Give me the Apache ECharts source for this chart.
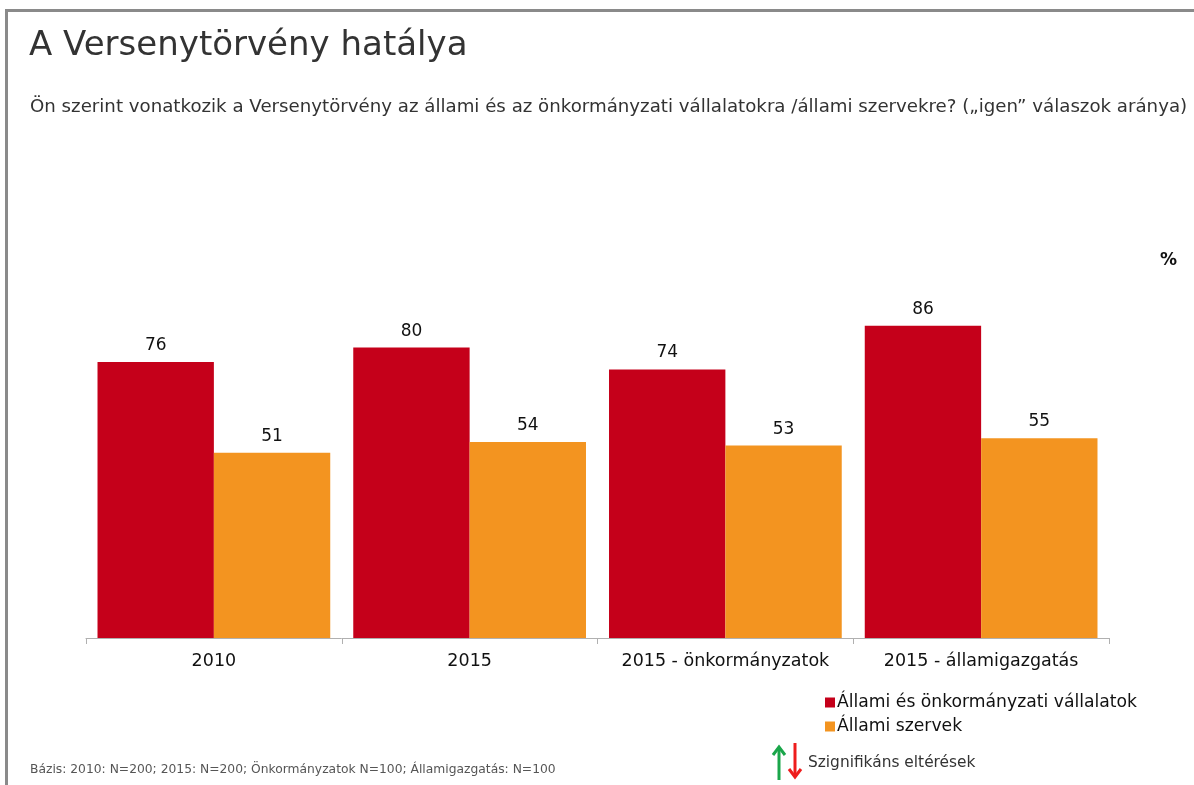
<!DOCTYPE html>
<html>
<head>
<meta charset="utf-8">
<script src="https://cdn.jsdelivr.net/npm/echarts@6/dist/echarts.min.js"></script>
<style>
html,body{margin:0;padding:0;background:#fff;}
#chart{width:1194px;height:785px;}
</style>
</head>
<body>
<div id="chart"></div>
<script>
const categories = ['2010', '2015', '2015 - önkormányzatok', '2015 - államigazgatás'];
const seriesNames = ['Állami és önkormányzati vállalatok', 'Állami szervek'];
const vallalatok = [76, 80, 74, 86];
const szervek = [51, 54, 53, 55];

const chart = echarts.init(document.getElementById('chart'), null, {renderer: 'canvas'});
const FONT = 'DejaVu Sans, Verdana, sans-serif';
chart.setOption({
  animation: false,
  backgroundColor: '#fff',
  textStyle: {fontFamily: FONT},
  title: [
    {text: 'A Versenytörvény hatálya', left: 29, top: 29, padding: 0,
     textStyle: {fontSize: 34, fontWeight: 'normal', color: '#333', fontFamily: FONT}},
    {text: 'Ön szerint vonatkozik a Versenytörvény az állami és az önkormányzati vállalatokra /állami szervekre? („igen” válaszok aránya)',
     left: 30, top: 98, padding: 0, textStyle: {fontSize: 18.2, fontWeight: 'normal', color: '#333', fontFamily: FONT}},
    {text: '%', left: 1160, top: 252, padding: 0, textStyle: {fontSize: 17, fontWeight: 'bold', color: '#111', fontFamily: FONT}},
    {text: 'Bázis: 2010: N=200; 2015: N=200; Önkormányzatok N=100; Államigazgatás: N=100',
     left: 30, top: 764, padding: 0, textStyle: {fontSize: 12.3, fontWeight: 'normal', color: '#555', fontFamily: FONT}},
    {text: 'Szignifikáns eltérések', left: 808, top: 755, padding: 0,
     textStyle: {fontSize: 15.4, fontWeight: 'normal', color: '#333', fontFamily: FONT}}
  ],
  legend: {
    orient: 'vertical', left: 820, top: 689, itemWidth: 10, itemHeight: 10, itemGap: 7,
    icon: 'rect', data: seriesNames,
    textStyle: {fontSize: 17.2, color: '#111', fontFamily: FONT, padding: [0, 0, 0, -3]}
  },
  grid: {left: 86, right: 85, top: 275, bottom: 147, containLabel: false},
  xAxis: {
    type: 'category', data: categories,
    axisLine: {lineStyle: {color: '#b0b0b0', width: 1}},
    axisTick: {show: true, interval: 0, length: 6, lineStyle: {color: '#b0b0b0'}},
    axisLabel: {interval: 0, hideOverlap: false, fontSize: 17.5, color: '#111', margin: 14, fontFamily: FONT}
  },
  yAxis: {type: 'value', min: 0, max: 100, show: false, splitLine: {show: false}},
  series: [
    {name: seriesNames[0], type: 'bar', data: vallalatok, barGap: '0%', barCategoryGap: '9%',
     itemStyle: {color: '#C5001A'},
     label: {show: true, position: 'top', distance: 8, fontSize: 17, color: '#111', fontFamily: FONT}},
    {name: seriesNames[1], type: 'bar', data: szervek, barGap: '0%', barCategoryGap: '9%',
     itemStyle: {color: '#F39420'},
     label: {show: true, position: 'top', distance: 8, fontSize: 17, color: '#111', fontFamily: FONT}}
  ],
  graphic: [
    {type: 'rect', shape: {x: 5, y: 9, width: 1189, height: 3}, style: {fill: '#8a8a8a'}, silent: true},
    {type: 'rect', shape: {x: 5, y: 9, width: 3, height: 776}, style: {fill: '#8a8a8a'}, silent: true},
    // green up arrow
    {type: 'polyline', shape: {points: [[779, 780], [779, 748]]}, style: {stroke: '#1aa64a', lineWidth: 3}},
    {type: 'polyline', shape: {points: [[773, 755], [779, 747], [785, 755]]}, style: {stroke: '#1aa64a', lineWidth: 3, fill: null}},
    // red down arrow
    {type: 'polyline', shape: {points: [[795, 743], [795, 776]]}, style: {stroke: '#ee1c1c', lineWidth: 3}},
    {type: 'polyline', shape: {points: [[789, 769], [795, 777], [801, 769]]}, style: {stroke: '#ee1c1c', lineWidth: 3, fill: null}}
  ]
});
</script>
</body>
</html>
